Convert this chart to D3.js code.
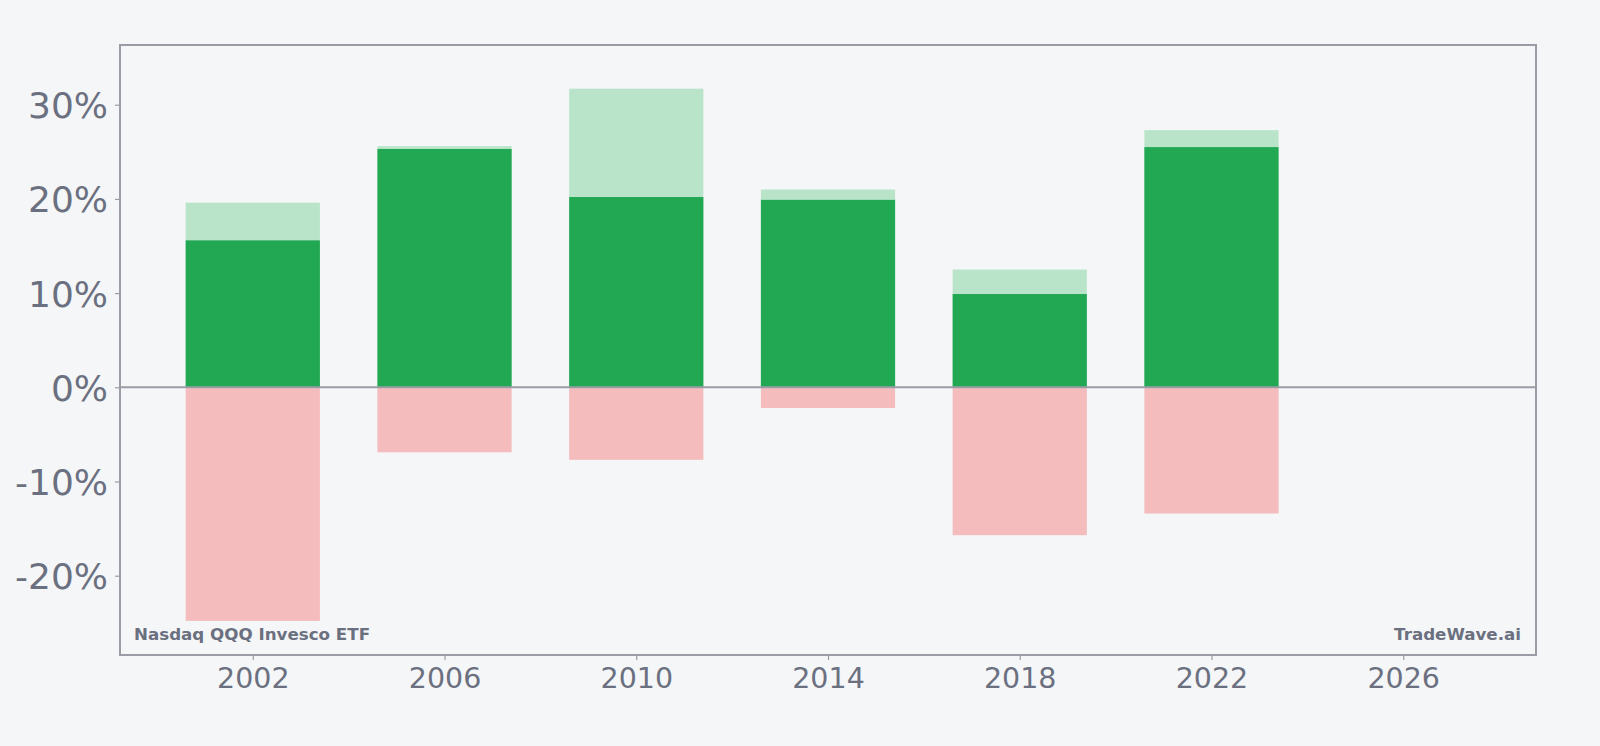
<!DOCTYPE html>
<html>
<head>
<meta charset="utf-8">
<script src="https://cdn.jsdelivr.net/npm/d3@7"></script>
<style>
  html, body { margin: 0; padding: 0; background: #f5f6f8; }
  svg { display: block; font-family: "DejaVu Sans", sans-serif; }
</style>
</head>
<body>
<div id="chart"></div>
<script>
var width = 1600,
    height = 746;

var margin = { top: 45, right: 64, bottom: 91, left: 120 };

// period start years and returns (percent)
var years = [2002, 2006, 2010, 2014, 2018, 2022];
var highs = [19.6, 25.6, 31.7, 21.0, 12.5, 27.3];
var closes = [15.6, 25.3, 20.2, 19.9, 9.9, 25.5];
var lows = [-24.8, -6.9, -7.7, -2.2, -15.7, -13.4];
var yTicks = [-20, -10, 0, 10, 20, 30];
var xTicks = [2002, 2006, 2010, 2014, 2018, 2022, 2026];

var data = years.map(function (y, i) {
    return { year: y, high: highs[i], close: closes[i], low: lows[i] };
});

var x = d3.scaleLinear()
    .domain([1999.23, 2028.77])
    .range([margin.left, width - margin.right]);

var y = d3.scaleLinear()
    .domain([-28.42, 36.34])
    .range([height - margin.bottom, margin.top]);

var barW = x(2002 + 2.8) - x(2002);

var svg = d3.select('#chart')
    .append('svg')
    .attr('width', width)
    .attr('height', height);

svg.append('rect')
    .attr('width', width)
    .attr('height', height)
    .attr('fill', '#f5f6f8');

var bars = svg.append('g');

// light: range up to the high
bars.selectAll('.high')
    .data(data)
    .enter()
    .append('rect')
    .attr('x', d => x(d.year) - barW / 2)
    .attr('width', barW)
    .attr('y', d => y(d.high))
    .attr('height', d => y(0) - y(d.high))
    .attr('fill', '#b9e4c9');

bars.selectAll('.close')
    .data(data)
    .enter()
    .append('rect')
    .attr('x', d => x(d.year) - barW / 2)
    .attr('width', barW)
    .attr('y', d => y(d.close))
    .attr('height', d => y(0) - y(d.close))
    .attr('fill', '#22a853');

bars.selectAll('.low')
    .data(data)
    .enter()
    .append('rect')
    .attr('x', d => x(d.year) - barW / 2)
    .attr('width', barW)
    .attr('y', y(0))
    .attr('height', d => y(d.low) - y(0))
    .attr('fill', '#f4bcbc');

// zero line
svg.append('line')
    .attr('x1', margin.left)
    .attr('x2', width - margin.right)
    .attr('y1', y(0))
    .attr('y2', y(0))
    .attr('stroke', '#9a9ca6')
    .attr('stroke-width', 2);

var yAxis = svg.append('g')
    .attr('transform', `translate(${margin.left},0)`)
    .call(d3.axisLeft(y).tickValues(yTicks).tickFormat(d => d + '%').tickSize(5).tickPadding(7));

var xAxis = svg.append('g')
    .attr('transform', `translate(0,${height - margin.bottom})`)
    .call(d3.axisBottom(x).tickValues(xTicks).tickFormat(d3.format('d')).tickSize(5).tickPadding(8));

yAxis.attr('font-family', '"DejaVu Sans", sans-serif');
xAxis.attr('font-family', '"DejaVu Sans", sans-serif');
yAxis.selectAll('text').attr('font-size', 36).attr('fill', '#6b7080').attr('dy', '0.36em');
xAxis.selectAll('text').attr('font-size', 28.5).attr('fill', '#6b7080');
svg.selectAll('.domain').remove();
svg.selectAll('.tick line').attr('stroke', '#9a9ca6').attr('stroke-width', 1.2);

// frame
svg.append('rect')
    .attr('x', margin.left)
    .attr('y', margin.top)
    .attr('width', width - margin.left - margin.right)
    .attr('height', height - margin.top - margin.bottom)
    .attr('fill', 'none')
    .attr('stroke', '#9a9ca6')
    .attr('stroke-width', 2);

svg.append('text')
    .attr('x', margin.left + 14)
    .attr('y', height - margin.bottom - 15)
    .attr('font-size', 16.7)
    .attr('font-weight', 'bold')
    .attr('fill', '#6b7080')
    .text('Nasdaq QQQ Invesco ETF');

svg.append('text')
    .attr('x', width - margin.right - 15)
    .attr('y', height - margin.bottom - 15)
    .attr('text-anchor', 'end')
    .attr('font-size', 16.7)
    .attr('font-weight', 'bold')
    .attr('fill', '#6b7080')
    .text('TradeWave.ai');
</script>
</body>
</html>
